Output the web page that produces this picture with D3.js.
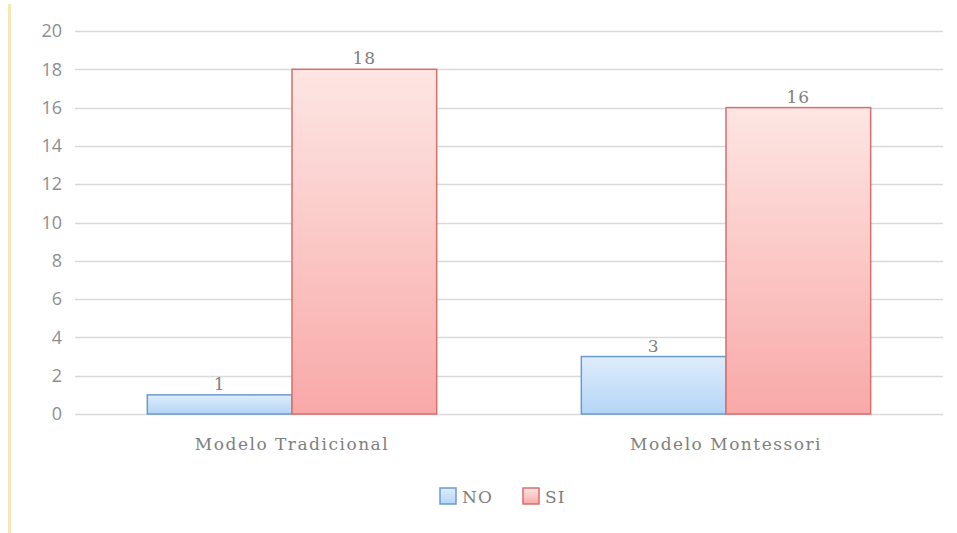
<!DOCTYPE html>
<html>
<head>
<meta charset="utf-8">
<script src="https://cdn.jsdelivr.net/npm/d3@7"></script>
<style>
  html, body { margin: 0; padding: 0; background: #fff; }
  svg { display: block; }
</style>
</head>
<body>
<svg id="chart" width="957" height="533"></svg>
<script>
// Chart data
const categories = ["Modelo Tradicional", "Modelo Montessori"];
const seriesNames = ["NO", "SI"];
const noValues = [1, 3];
const siValues = [18, 16];
const yTicks = [0, 2, 4, 6, 8, 10, 12, 14, 16, 18, 20];

const svg = d3.select("#chart");
const W = 957, H = 533;
const margin = { top: 31, right: 14, bottom: 119, left: 75 };
const plotW = W - margin.left - margin.right;
const plotH = H - margin.top - margin.bottom;

const serif = "'DejaVu Serif', serif";
const textColor = "#808080";

const defs = svg.append("defs");
function grad(id, top, bottom) {
  const g = defs.append("linearGradient").attr("id", id)
    .attr("x1", 0).attr("y1", 0).attr("x2", 0).attr("y2", 1);
  g.append("stop").attr("offset", "0%").attr("stop-color", top);
  g.append("stop").attr("offset", "100%").attr("stop-color", bottom);
}
grad("gNO", "#deedfc", "#b4d5f6");
grad("gSI", "#fde6e3", "#f8a9a8");
const fills = { NO: "url(#gNO)", SI: "url(#gSI)" };
const strokes = { NO: "#6d99d2", SI: "#d86e6d" };

// Left page rule
svg.append("line")
  .attr("x1", 9.5).attr("x2", 9.5).attr("y1", 4).attr("y2", H)
  .attr("stroke", "#f6e7b4").attr("stroke-width", 3);

const g = svg.append("g").attr("transform", `translate(${margin.left},${margin.top})`);

const x0 = d3.scaleBand().domain(categories).range([0, plotW]).paddingInner(0).paddingOuter(0);
const x1 = d3.scaleBand().domain(seriesNames).range([0, x0.bandwidth()]).paddingInner(0).paddingOuter(0.5);
const y = d3.scaleLinear().domain([0, 20]).range([plotH, 0]);

// Gridlines
g.append("g").selectAll("line").data(yTicks).join("line")
  .attr("x1", 0).attr("x2", plotW)
  .attr("y1", d => Math.round(y(d)) + 0.5).attr("y2", d => Math.round(y(d)) + 0.5)
  .attr("stroke", "#d9d9d9").attr("stroke-width", 1.5);

// Y axis labels
const yAxis = d3.axisLeft(y).tickValues(yTicks).tickSize(0).tickPadding(13);
const ya = g.append("g").call(yAxis);
ya.select(".domain").remove();
ya.selectAll("text")
  .attr("fill", "#8f8f8f")
  .style("font-family", "'Open Sans', 'Noto Sans', sans-serif")
  .style("font-size", "18px");

// Bars
const rows = categories.map((c, i) => ({ cat: c, vals: [
  { key: "NO", v: noValues[i] }, { key: "SI", v: siValues[i] } ] }));

const grp = g.selectAll(".grp").data(rows).join("g")
  .attr("transform", d => `translate(${x0(d.cat)},0)`);

grp.selectAll("rect").data(d => d.vals).join("rect")
  .attr("x", d => x1(d.key))
  .attr("y", d => y(d.v))
  .attr("width", x1.bandwidth())
  .attr("height", d => y(0) - y(d.v))
  .attr("fill", d => fills[d.key])
  .attr("stroke", d => strokes[d.key])
  .attr("stroke-width", 1.5);

grp.selectAll("text.val").data(d => d.vals).join("text")
  .attr("class", "val")
  .attr("x", d => x1(d.key) + x1.bandwidth() / 2)
  .attr("y", d => y(d.v) - 5)
  .attr("text-anchor", "middle")
  .attr("fill", textColor)
  .style("font-family", serif)
  .style("font-size", "17px")
  .style("letter-spacing", "1px")
  .text(d => d.v);

// Category labels
const xa = g.append("g").attr("transform", `translate(0,${plotH})`)
  .call(d3.axisBottom(x0).tickSize(0).tickPadding(24));
xa.select(".domain").remove();
xa.selectAll("text")
  .attr("fill", textColor)
  .style("font-family", serif)
  .style("font-size", "17px")
  .style("letter-spacing", "1.5px");

// Legend
const legend = svg.append("g").attr("transform", "translate(440,488)");
const items = legend.selectAll("g").data(seriesNames).join("g")
  .attr("transform", (d, i) => `translate(${i * 83},0)`);
items.append("rect")
  .attr("width", 16).attr("height", 16)
  .attr("fill", d => fills[d]).attr("stroke", d => strokes[d]).attr("stroke-width", 1.5);
items.append("text")
  .attr("x", 22).attr("y", 15)
  .attr("fill", textColor)
  .style("font-family", serif)
  .style("font-size", "17px")
  .style("letter-spacing", "1px")
  .text(d => d);
</script>
</body>
</html>
